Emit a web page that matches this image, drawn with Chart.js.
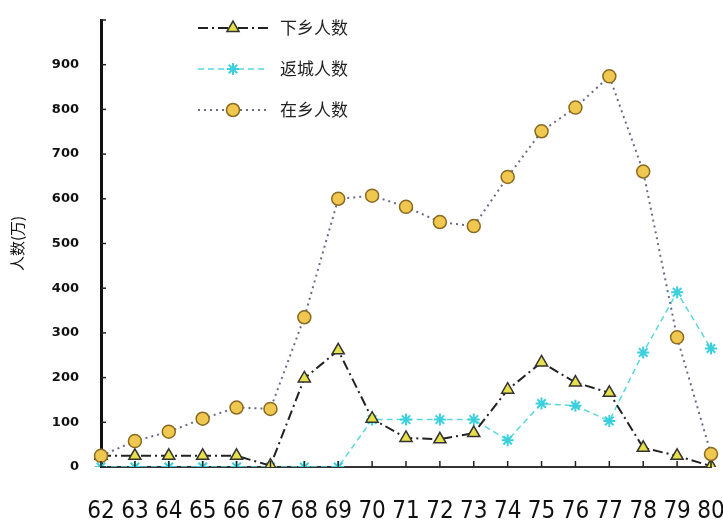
<!DOCTYPE html>
<html>
<head>
<meta charset="utf-8">
<script src="https://cdn.jsdelivr.net/npm/chart.js@4/dist/chart.umd.min.js"></script>
<style>
html,body{margin:0;padding:0;background:#fff;}
#c{display:block;}
</style>
</head>
<body>
<canvas id="c" width="723" height="530"></canvas>
<script>
const years = ['62','63','64','65','66','67','68','69','70','71','72','73','74','75','76','77','78','79','80'];
const xiaxiang = [25,25,25,25,25,3,198,261,108,65,62,76,173,234,189,166,43,25,2];
const fancheng = [0,0,0,0,0,0,0,0,106,106,106,106,60,142,137,103,256,391,265];
const zaixiang = [25,58,79,108,133,130,335,600,607,582,548,539,649,751,804,874,661,290,29];
const seriesNames = ['下乡人数','返城人数','在乡人数'];
const yTitle = '人数(万)';

const innerTicks = {
  id:'innerTicks',
  afterDraw(chart){
    const ctx = chart.ctx, x = chart.scales.x, y = chart.scales.y;
    ctx.save();
    ctx.strokeStyle = '#222';
    ctx.lineWidth = 1.5;
    y.ticks.forEach(t=>{
      const py = y.getPixelForValue(t.value);
      ctx.beginPath(); ctx.moveTo(x.left, py); ctx.lineTo(x.left+5, py); ctx.stroke();
    });
    years.forEach((_,i)=>{
      const px = x.getPixelForValue(i);
      ctx.beginPath(); ctx.moveTo(px, y.bottom); ctx.lineTo(px, y.bottom-6); ctx.stroke();
    });
    ctx.restore();
  }
};

const customLegend = {
  id:'customLegend',
  afterDraw(chart){
    const ctx = chart.ctx;
    const rows = [28, 69, 110];
    ctx.save();
    chart.data.datasets.forEach((ds,i)=>{
      const yy = rows[i];
      ctx.beginPath();
      ctx.setLineDash(ds.borderDash || []);
      ctx.strokeStyle = ds.borderColor;
      ctx.lineWidth = ds.borderWidth;
      ctx.moveTo(198, yy); ctx.lineTo(268, yy); ctx.stroke();
      ctx.setLineDash([]);
      ctx.fillStyle = ds.pointBackgroundColor;
      ctx.strokeStyle = ds.pointBorderColor;
      ctx.lineWidth = ds.pointBorderWidth;
      Chart.helpers.drawPoint(ctx, {pointStyle: ds.pointStyle, radius: ds.pointRadius, rotation: 0, borderWidth: ds.pointBorderWidth}, 233, yy);
      ctx.fillStyle = '#222';
      ctx.font = '17px "Noto Sans CJK SC"';
      ctx.textBaseline = 'middle';
      ctx.fillText(ds.label, 280, yy);
    });
    ctx.restore();
  }
};

new Chart(document.getElementById('c'), {
  type:'line',
  data:{
    labels: years,
    datasets:[
      {label:seriesNames[0], data:xiaxiang, borderColor:'#222', borderWidth:2, borderDash:[10,4,2,4],
       pointStyle:'triangle', pointRadius:7, pointBackgroundColor:'#e6e04a', pointBorderColor:'#333', pointBorderWidth:1.5, tension:0, order:1},
      {label:seriesNames[1], data:fancheng, borderColor:'#5ad8e0', borderWidth:1.5, borderDash:[6,4],
       pointStyle:'star', pointRadius:6, pointBackgroundColor:'#5ad8e0', pointBorderColor:'#3cd0dc', pointBorderWidth:2, tension:0, order:2},
      {label:seriesNames[2], data:zaixiang, borderColor:'#6a6a88', borderWidth:2, borderDash:[2,4],
       pointStyle:'circle', pointRadius:6.5, pointBackgroundColor:'#f0c850', pointBorderColor:'#8a6a20', pointBorderWidth:1.5, tension:0, order:0}
    ]
  },
  options:{
    responsive:false,
    animation:false,
    devicePixelRatio:1,
    layout:{padding:{left:0,right:12,top:20,bottom:0}},
    plugins:{legend:{display:false}, tooltip:{enabled:false}},
    scales:{
      x:{
        type:'category', offset:false,
        grid:{display:false, drawTicks:false},
        border:{display:true, color:'#333', width:2},
        ticks:{padding:30, color:'#111', font:{family:'"Liberation Sans Narrow","DejaVu Sans Condensed",sans-serif', size:24}, maxRotation:0, autoSkip:false},
        afterFit(s){ s.height = 63; s.paddingRight = 0; s.paddingLeft = 0; }
      },
      y:{
        min:0, max:1000,
        grid:{display:false, drawTicks:false},
        border:{display:true, color:'#111', width:3},
        ticks:{stepSize:100, padding:22, color:'#111', font:{family:'"DejaVu Sans",sans-serif', size:13, weight:'bold'},
          callback:(v)=> v===1000 ? '' : String(v)},
        title:{display:true, text:yTitle, color:'#111', font:{family:'"Noto Sans CJK SC"', size:15}, padding:{top:8,bottom:0}},
        afterFit(s){ s.width = 101; s.paddingTop = 0; s.paddingBottom = 0; }
      }
    }
  },
  plugins:[innerTicks, customLegend]
});
</script>
</body>
</html>
